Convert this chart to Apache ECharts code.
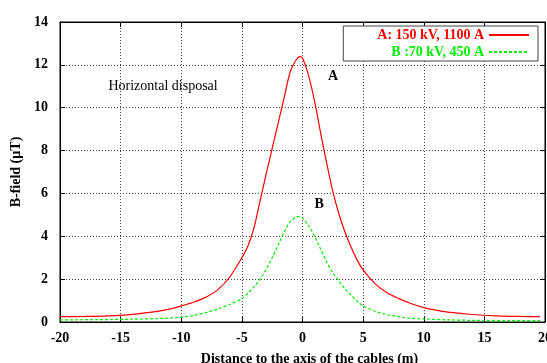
<!DOCTYPE html>
<html>
<head>
<meta charset="utf-8">
<script src="https://cdn.jsdelivr.net/npm/echarts@6/dist/echarts.min.js"></script>
<style>html,body{margin:0;padding:0;background:#fff;}#c{width:547px;height:363px;}</style>
</head>
<body>
<div id="c"></div>
<script>
const seriesNames = ['A: 150 kV, 1100 A', 'B :70 kV, 450 A'];
const xA = [-20, -18, -16, -14, -12, -11, -10, -9, -8, -7, -6, -5, -4.5, -4, -3.5, -3, -2.5, -2, -1.5, -1, -0.5, -0.2, 0, 0.5, 1, 1.5, 2, 2.5, 3, 3.5, 4, 4.5, 5, 6, 7, 8, 9, 10, 11, 12, 14, 16, 18, 19.6];
const yA = [0.25, 0.26, 0.29, 0.36, 0.5, 0.6, 0.75, 0.92, 1.15, 1.5, 2.1, 3.0, 3.55, 4.4, 5.65, 6.9, 8.1, 9.3, 10.5, 11.7, 12.25, 12.38, 12.32, 11.5, 10.3, 8.8, 7.4, 6.1, 5.05, 4.2, 3.5, 2.9, 2.43, 1.78, 1.35, 1.08, 0.85, 0.67, 0.55, 0.46, 0.35, 0.29, 0.26, 0.25];
const xB = [-20, -17, -14, -12, -10, -9, -8, -7, -6, -5, -4.5, -4, -3.5, -3, -2.5, -2, -1.5, -1, -0.5, -0.3, 0, 0.5, 1, 1.5, 2, 2.5, 3, 3.5, 4, 4.5, 5, 6, 7, 8, 9, 10, 12, 15, 19.6];
const yB = [0.1, 0.11, 0.13, 0.16, 0.22, 0.3, 0.44, 0.6, 0.82, 1.09, 1.35, 1.65, 2.0, 2.45, 3.0, 3.6, 4.2, 4.7, 4.9, 4.93, 4.85, 4.5, 4.0, 3.4, 2.8, 2.3, 1.92, 1.55, 1.25, 0.98, 0.75, 0.5, 0.34, 0.24, 0.17, 0.14, 0.1, 0.07, 0.06];
const xTicks = {min: -20, max: 20, interval: 5};
const yTicks = {min: 0, max: 14, interval: 2};
const annotations = [
  {text: 'Horizontal disposal', x: -11.5, y: 11.0, bold: false},
  {text: 'A', x: 2.53, y: 11.48, bold: true},
  {text: 'B', x: 1.38, y: 5.48, bold: true}
];

const FONT = '"Liberation Serif", "Times New Roman", serif';
const chart = echarts.init(document.getElementById('c'), null, {renderer: 'canvas'});
const zip = (xs, ys) => xs.map((x, i) => [x, ys[i]]);
const colors = ['#ff0000', '#00ee00'];

const baseX = {
  type: 'value', min: xTicks.min, max: xTicks.max, interval: xTicks.interval,
  axisLine: {show: true, onZero: false, lineStyle: {color: '#000', width: 1}},
  axisTick: {show: true, inside: true, length: 5, lineStyle: {color: '#000'}},
};
const baseY = {
  type: 'value', min: yTicks.min, max: yTicks.max, interval: yTicks.interval,
  axisLine: {show: true, onZero: false, lineStyle: {color: '#000', width: 1}},
  axisTick: {show: true, inside: true, length: 5, lineStyle: {color: '#000'}},
};

chart.setOption({
  animation: false,
  backgroundColor: '#fff',
  grid: {left: 60, right: 2, top: 22, bottom: 41, outerBoundsMode: 'none', containLabel: false,
         show: true, borderColor: '#000', borderWidth: 1, backgroundColor: 'transparent'},
  legend: {
    orient: 'vertical', right: 9, top: 26, bottom: 'auto', left: 'auto', align: 'right',
    itemWidth: 40, itemHeight: 12, itemGap: 3,
    padding: [2, 8, 2, 34],
    backgroundColor: '#fff', borderColor: '#444', borderWidth: 1,
    itemStyle: {opacity: 0, borderWidth: 0},
    textStyle: {fontFamily: FONT, fontSize: 14, fontWeight: 'bold'},
    data: [
      {name: seriesNames[0], textStyle: {color: colors[0]}},
      {name: seriesNames[1], textStyle: {color: colors[1]}}
    ]
  },
  xAxis: [
    Object.assign({}, baseX, {
      position: 'bottom',
      name: 'Distance to the axis of the cables (m)', nameLocation: 'middle', nameGap: 30,
      nameTextStyle: {fontFamily: FONT, fontSize: 14, fontWeight: 'bold', color: '#000', padding: [0, 0, 0, 14]},
      axisLabel: {fontFamily: FONT, fontSize: 14, fontWeight: 'bold', color: '#000', margin: 9},
      splitLine: {show: true, lineStyle: {color: '#444', type: [1, 2], width: 1}}
    }),
    Object.assign({}, baseX, {position: 'top', axisLabel: {show: false}, splitLine: {show: false}})
  ],
  yAxis: [
    Object.assign({}, baseY, {
      position: 'left',
      name: 'B-field (\u00b5T)', nameLocation: 'middle', nameGap: 36, nameRotate: 90,
      nameTextStyle: {fontFamily: FONT, fontSize: 14, fontWeight: 'bold', color: '#000'},
      axisLabel: {fontFamily: FONT, fontSize: 14, fontWeight: 'bold', color: '#000', margin: 12},
      splitLine: {show: true, lineStyle: {color: '#444', type: [1, 2], width: 1}}
    }),
    Object.assign({}, baseY, {position: 'right', axisLabel: {show: false}, splitLine: {show: false}})
  ],
  series: [
    {
      name: seriesNames[0], type: 'line', data: zip(xA, yA), smooth: 0.3, symbol: 'none',
      lineStyle: {color: colors[0], width: 1.2, type: 'solid'}, itemStyle: {color: colors[0]}, z: 3
    },
    {
      name: seriesNames[1], type: 'line', data: zip(xB, yB), smooth: 0.3, symbol: 'none',
      lineStyle: {color: colors[1], width: 1.2, type: [3, 2]}, itemStyle: {color: colors[1]}, z: 3
    }
  ]
});

const gtexts = annotations.map(a => {
  const p = chart.convertToPixel({xAxisIndex: 0, yAxisIndex: 0}, [a.x, a.y]);
  return {
    type: 'text', x: p[0], y: p[1],
    style: {text: a.text, fill: '#000', font: (a.bold ? 'bold ' : '') + '14px ' + FONT, textAlign: 'center', textVerticalAlign: 'middle'}
  };
});
chart.setOption({graphic: gtexts});
</script>
</body>
</html>
